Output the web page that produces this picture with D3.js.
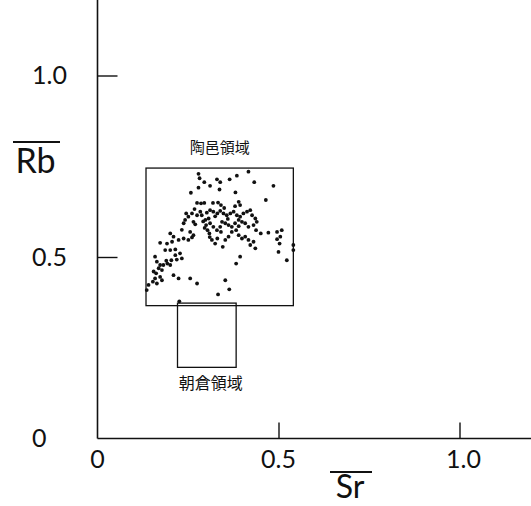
<!DOCTYPE html>
<html>
<head>
<meta charset="utf-8">
<script src="https://cdn.jsdelivr.net/npm/d3@7"></script>
<style>
  html, body { margin: 0; padding: 0; background: #fff; }
  svg { display: block; }
</style>
</head>
<body>
<svg id="chart" width="531" height="506"></svg>
<script>
// Sr / Rb ratio scatter with the two source-area boxes

const tickValues = [0.5, 1.0];
const xTickLabels = ["0", "0.5", "1.0"];
const xTickValues = [0, 0.5, 1.0];
const yTickLabels = ["0", "0.5", "1.0"];
const yTickValues = [0, 0.5, 1.0];

// Sr values of the measured sherds
const srValues = [
  0.279, 0.282, 0.295, 0.311, 0.330, 0.339, 0.337, 0.365, 0.385, 0.417,
  0.433, 0.486, 0.258, 0.279, 0.381, 0.465, 0.275, 0.286, 0.295, 0.319,
  0.333, 0.341, 0.390, 0.394, 0.261, 0.251, 0.242, 0.238, 0.265, 0.275,
  0.284, 0.288, 0.302, 0.311, 0.320, 0.331, 0.339, 0.348, 0.357, 0.367,
  0.376, 0.385, 0.394, 0.403, 0.413, 0.422, 0.427, 0.436, 0.440, 0.431,
  0.417, 0.408, 0.399, 0.390, 0.380, 0.371, 0.362, 0.353, 0.344, 0.339,
  0.330, 0.320, 0.311, 0.307, 0.298, 0.300, 0.304, 0.309, 0.316, 0.325,
  0.331, 0.341, 0.346, 0.353, 0.362, 0.371, 0.383, 0.390, 0.399, 0.408,
  0.417, 0.422, 0.431, 0.436, 0.438, 0.451, 0.472, 0.496, 0.509, 0.505,
  0.496, 0.503, 0.500, 0.523, 0.541, 0.541, 0.201, 0.210, 0.206, 0.224,
  0.238, 0.251, 0.261, 0.265, 0.256, 0.192, 0.173, 0.187, 0.201, 0.215,
  0.228, 0.233, 0.219, 0.204, 0.201, 0.193, 0.182, 0.173, 0.164, 0.159,
  0.169, 0.178, 0.162, 0.159, 0.153, 0.164, 0.173, 0.178, 0.141, 0.136,
  0.210, 0.224, 0.256, 0.275, 0.353, 0.364, 0.333, 0.383, 0.394, 0.226,
  0.245, 0.268, 0.292, 0.325, 0.360, 0.350, 0.296, 0.233, 0.190, 0.215,
  0.155, 0.270, 0.380, 0.390, 0.310
];

// Rb values, same order as srValues
const rbValues = [
  0.729, 0.717, 0.706, 0.696, 0.714, 0.706, 0.686, 0.714, 0.724, 0.735,
  0.706, 0.696, 0.677, 0.691, 0.678, 0.657, 0.649, 0.648, 0.649, 0.649,
  0.650, 0.643, 0.652, 0.643, 0.620, 0.611, 0.602, 0.593, 0.597, 0.615,
  0.625, 0.615, 0.622, 0.629, 0.625, 0.620, 0.627, 0.620, 0.615, 0.620,
  0.625, 0.615, 0.611, 0.620, 0.625, 0.629, 0.615, 0.606, 0.597, 0.588,
  0.583, 0.593, 0.597, 0.602, 0.593, 0.583, 0.588, 0.593, 0.597, 0.583,
  0.574, 0.583, 0.593, 0.606, 0.602, 0.588, 0.574, 0.565, 0.547, 0.537,
  0.551, 0.569, 0.528, 0.547, 0.556, 0.569, 0.574, 0.560, 0.551, 0.556,
  0.547, 0.533, 0.542, 0.524, 0.574, 0.565, 0.567, 0.569, 0.574, 0.556,
  0.549, 0.537, 0.514, 0.491, 0.533, 0.519, 0.565, 0.556, 0.542, 0.547,
  0.551, 0.547, 0.554, 0.560, 0.569, 0.537, 0.539, 0.519, 0.519, 0.521,
  0.510, 0.496, 0.493, 0.491, 0.478, 0.482, 0.478, 0.478, 0.487, 0.501,
  0.469, 0.464, 0.455, 0.441, 0.432, 0.427, 0.445, 0.436, 0.423, 0.409,
  0.450, 0.441, 0.441, 0.427, 0.436, 0.411, 0.397, 0.482, 0.501, 0.378,
  0.620, 0.632, 0.598, 0.612, 0.605, 0.635, 0.580, 0.575, 0.490, 0.505,
  0.460, 0.590, 0.640, 0.585, 0.555
];

// Source-area boxes: [Sr min, Sr max, Rb min, Rb max]
const areaNames = ["陶邑領域", "朝倉領域"];
const areaSr = [[0.134, 0.541], [0.221, 0.383]];
const areaRb = [[0.366, 0.745], [0.196, 0.373]];

const svg = d3.select("#chart");

const x = d3.scaleLinear().domain([0, 1]).range([97.5, 459.5]);
const y = d3.scaleLinear().domain([0, 1]).range([438.5, 75.5]);

const numFont = "Lato, 'DejaVu Sans', sans-serif";
const cjkFont = "'Noto Sans CJK JP', sans-serif";

// Vertical axis runs to the top edge, horizontal one to the right edge
svg.append("line")
  .attr("x1", x(0)).attr("x2", x(0))
  .attr("y1", 0).attr("y2", y(0))
  .attr("stroke", "#111").attr("stroke-width", 1.6);
svg.append("line")
  .attr("x1", x(0)).attr("x2", 531)
  .attr("y1", y(0)).attr("y2", y(0))
  .attr("stroke", "#111").attr("stroke-width", 1.6);

// Inward ticks
const yAxis = d3.axisRight(y).tickValues(tickValues).tickSize(20).tickFormat("");
const yg = svg.append("g").attr("transform", `translate(${x(0)},0)`).call(yAxis);
yg.select(".domain").remove();
yg.selectAll("line").attr("stroke", "#111").attr("stroke-width", 1.4);

const xAxis = d3.axisTop(x).tickValues(tickValues).tickSize(16).tickFormat("");
const xg = svg.append("g").attr("transform", `translate(0,${y(0)})`).call(xAxis);
xg.select(".domain").remove();
xg.selectAll("line").attr("stroke", "#111").attr("stroke-width", 1.4);

// Tick labels
svg.append("g").selectAll("text")
  .data(yTickValues)
  .join("text")
  .attr("x", 32)
  .attr("y", d => y(d) + 8.5)
  .attr("font-family", numFont)
  .attr("font-size", 25)
  .attr("fill", "#111")
  .text((d, i) => yTickLabels[i]);

svg.append("g").selectAll("text")
  .data(xTickValues)
  .join("text")
  .attr("x", d => x(d) + (d === 1 ? 4 : 0))
  .attr("y", y(0) + 29)
  .attr("text-anchor", "middle")
  .attr("font-family", numFont)
  .attr("font-size", 25)
  .attr("fill", "#111")
  .text((d, i) => xTickLabels[i]);

// Axis titles with overbars
svg.append("line").attr("x1", 13).attr("x2", 60).attr("y1", 142).attr("y2", 142)
  .attr("stroke", "#111").attr("stroke-width", 1.8);
svg.append("text").attr("x", 35.5).attr("y", 173).attr("text-anchor", "middle")
  .attr("font-family", numFont).attr("font-size", 34).attr("fill", "#111").text("Rb");

svg.append("line").attr("x1", 330).attr("x2", 372).attr("y1", 472).attr("y2", 472)
  .attr("stroke", "#111").attr("stroke-width", 1.8);
svg.append("text").attr("x", 350).attr("y", 498).attr("text-anchor", "middle")
  .attr("font-family", numFont).attr("font-size", 32).attr("fill", "#111").text("Sr");

// Area boxes
const boxes = svg.append("g");
areaNames.forEach((name, i) => {
  boxes.append("rect")
    .attr("x", x(areaSr[i][0]))
    .attr("y", y(areaRb[i][1]))
    .attr("width", x(areaSr[i][1]) - x(areaSr[i][0]))
    .attr("height", y(areaRb[i][0]) - y(areaRb[i][1]))
    .attr("fill", "none")
    .attr("stroke", "#111")
    .attr("stroke-width", 1.3);
});

// Area names: above the first box, below the second
svg.append("text")
  .attr("x", x((areaSr[0][0] + areaSr[0][1]) / 2))
  .attr("y", y(areaRb[0][1]) - 15)
  .attr("text-anchor", "middle")
  .attr("font-family", cjkFont)
  .attr("font-size", 15)
  .attr("fill", "#111")
  .text(areaNames[0]);

svg.append("text")
  .attr("x", x((areaSr[1][0] + areaSr[1][1]) / 2) + 4)
  .attr("y", y(areaRb[1][0]) + 22)
  .attr("text-anchor", "middle")
  .attr("font-family", cjkFont)
  .attr("font-size", 16)
  .attr("fill", "#111")
  .text(areaNames[1]);

// Sample points
svg.append("g").selectAll("circle")
  .data(d3.range(srValues.length))
  .join("circle")
  .attr("cx", i => x(srValues[i]))
  .attr("cy", i => y(rbValues[i]))
  .attr("r", 1.9)
  .attr("fill", "#111");
</script>
</body>
</html>
